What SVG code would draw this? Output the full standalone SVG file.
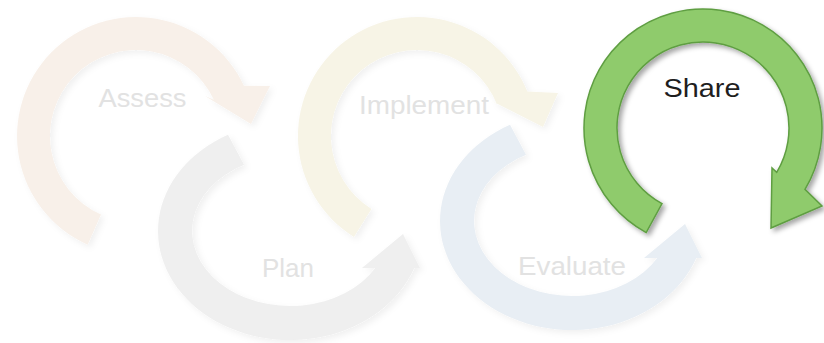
<svg xmlns="http://www.w3.org/2000/svg" width="824" height="343" viewBox="0 0 824 343">
<defs>
<style>
.lbl{font-family:"Liberation Sans",Arial,sans-serif;font-size:26px;text-anchor:middle}
.faded{fill:#e2e2e2}
.dark{fill:#1e1e1e}
</style>
<filter id="sh" x="-20%" y="-20%" width="140%" height="140%">
<feDropShadow dx="3" dy="3" stdDeviation="2.5" flood-color="#000" flood-opacity="0.35"/>
</filter>
<filter id="shf" x="-20%" y="-20%" width="140%" height="140%">
<feDropShadow dx="3" dy="3" stdDeviation="3" flood-color="#000" flood-opacity="0.06"/>
</filter>
</defs>
<rect width="824" height="343" fill="#ffffff"/>
<g id="connectors"></g>
<g id="assess">
<path filter="url(#shf)" fill="#f8f0e9" d="M87.6,244.7 A119,119 0 1 1 243.9,85.7 L270,86 L251,124 L205,96 L213.9,99.7 A86,86 0 1 0 101,214.6 Z"/>
<text class="lbl faded" x="142.5" y="107" textLength="88" lengthAdjust="spacingAndGlyphs">Assess</text>
</g>
<g id="plan">
<path filter="url(#shf)" fill="#efefef" d="M228,134.8 A132,109 0 1 0 414.2,268 L420,268 L403,234 L362,268 L375.3,268 A98,75 0 1 1 244,164.8 Z"/>
<text class="lbl faded" x="288" y="277" textLength="52" lengthAdjust="spacingAndGlyphs">Plan</text>
</g>
<g id="implement">
<path filter="url(#shf)" fill="#f7f4e6" d="M353.9,236.9 A119,119 0 1 1 527.3,91.4 L558,93 L543,127 L490,100 L496.7,103.8 A86,86 0 1 0 371.4,208.9 Z"/>
<text class="lbl faded" x="424" y="114" textLength="130" lengthAdjust="spacingAndGlyphs">Implement</text>
</g>
<g id="evaluate">
<path filter="url(#shf)" fill="#e8eef4" d="M510,124.8 A132,109 0 1 0 696.2,258 L702,258 L685,224 L644,258 L657.3,258 A98,75 0 1 1 526,154.8 Z"/>
<text class="lbl faded" x="572" y="275" textLength="108" lengthAdjust="spacingAndGlyphs">Evaluate</text>
</g>
<g id="share">
<path filter="url(#sh)" fill="#8fcb6c" stroke="#5f9e42" stroke-width="1.5" stroke-linejoin="miter" d="M646.2,232.6 A119,119 0 1 1 805,189.3 L822,206 L771,228 L772,168 L776.7,172.3 A86,86 0 1 0 662,203.6 Z"/>
<text class="lbl dark" x="702" y="97" textLength="77" lengthAdjust="spacingAndGlyphs">Share</text>
</g>
</svg>
